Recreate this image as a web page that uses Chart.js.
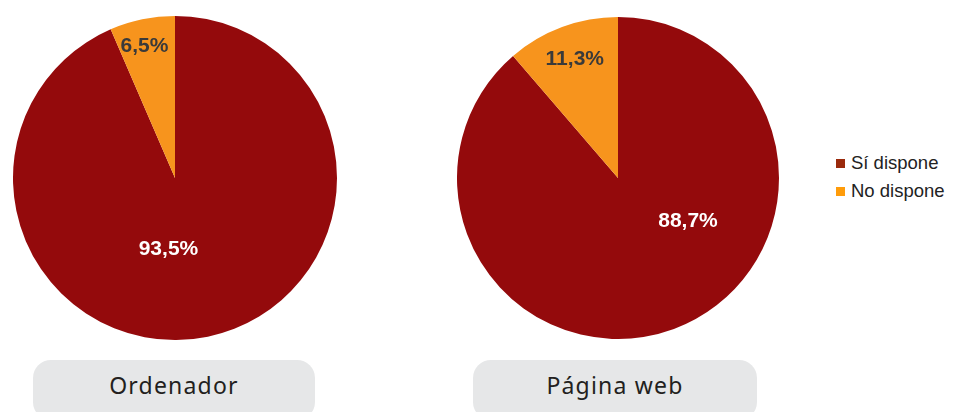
<!DOCTYPE html>
<html>
<head>
<meta charset="utf-8">
<script src="https://cdn.jsdelivr.net/npm/chart.js@4/dist/chart.umd.min.js"></script>
<style>
    body { margin: 0; background: #fff; width: 957px; height: 412px; overflow: hidden; position: relative; }
    .pie { position: absolute; }
    .caja {
        position: absolute; top: 360px; height: 60px; background: #e6e7e8; border-radius: 18px;
        font-family: "Noto Sans", "Open Sans", sans-serif; font-size: 23px; letter-spacing: 1.2px;
        color: #231f20; text-align: center; line-height: 51px;
    }
    #leyenda { position: absolute; left: 836px; top: 150px; font-family: "Liberation Sans", Arial, sans-serif; font-size: 18.5px; color: #222; }
    #leyenda div { height: 28px; line-height: 26px; white-space: nowrap; }
    #leyenda span { display: inline-block; width: 9px; height: 9px; margin-right: 6px; vertical-align: 1px; }
</style>
</head>
<body>
<canvas id="chartOrdenador" class="pie" style="left:13px;top:16px;width:324px;height:324px"></canvas>
<canvas id="chartWeb" class="pie" style="left:457px;top:17px;width:322px;height:322px"></canvas>
<div class="caja" style="left:33px;width:282px" id="tit1"></div>
<div class="caja" style="left:473px;width:284px" id="tit2"></div>
<div id="leyenda"></div>
<script>
var categorias = ["Sí dispone", "No dispone"];
var titulos = ["Ordenador", "Página web"];
var ordenador = [93.5, 6.5];
var paginaWeb = [88.7, 11.3];

var coloresSector = ['#940a0c', '#f7941d'];
var coloresLeyenda = ['#9a2a0c', '#ff9c0a'];
var coloresEtiqueta = ['#ffffff', '#3a3a3a'];

document.getElementById('tit1').textContent = titulos[0];
document.getElementById('tit2').textContent = titulos[1];

var ley = document.getElementById('leyenda');
categorias.forEach(function (c, i) {
    var d = document.createElement('div');
    d.innerHTML = '<span style="background:' + coloresLeyenda[i] + '"></span>' + c;
    ley.appendChild(d);
});

// etiquetas de porcentaje dentro de cada sector
var etiquetas = {
    id: 'etiquetas',
    afterDatasetsDraw: function (chart, args, opts) {
        var ctx = chart.ctx;
        var meta = chart.getDatasetMeta(0);
        ctx.save();
        ctx.font = 'bold 21px "Liberation Sans", Arial, sans-serif';
        ctx.textAlign = 'center';
        ctx.textBaseline = 'middle';
        meta.data.forEach(function (arc, i) {
            var p = arc.getProps(['x', 'y', 'startAngle', 'endAngle', 'outerRadius']);
            var mid = (p.startAngle + p.endAngle) / 2;
            var r = p.outerRadius * opts.radio[i];
            var x = p.x + Math.cos(mid) * r + opts.ajuste[i][0];
            var y = p.y + Math.sin(mid) * r + opts.ajuste[i][1];
            var v = chart.data.datasets[0].data[i];
            ctx.fillStyle = coloresEtiqueta[i];
            ctx.fillText(v.toFixed(1).replace('.', ',') + '%', x, y);
        });
        ctx.restore();
    }
};

function tarta(id, datos, radio, ajuste) {
    var ctx = document.getElementById(id).getContext('2d');
    return new Chart(ctx, {
        type: 'pie',
        data: {
            labels: categorias,
            datasets: [{
                data: datos,
                backgroundColor: coloresSector,
                borderWidth: 0
            }]
        },
        options: {
            responsive: false,
            animation: false,
            layout: { padding: 0 },
            plugins: {
                legend: { display: false },
                tooltip: { enabled: false },
                etiquetas: { radio: radio, ajuste: ajuste }
            }
        },
        plugins: [etiquetas]
    });
}

document.getElementById('chartOrdenador').width = 324;
document.getElementById('chartOrdenador').height = 324;
document.getElementById('chartWeb').width = 322;
document.getElementById('chartWeb').height = 322;

tarta('chartOrdenador', ordenador, [0.44, 0.84], [[-21, 1], [-3, 1]]);
tarta('chartWeb', paginaWeb, [0.5, 0.79], [[42, -32], [1, 0]]);
</script>
</body>
</html>
